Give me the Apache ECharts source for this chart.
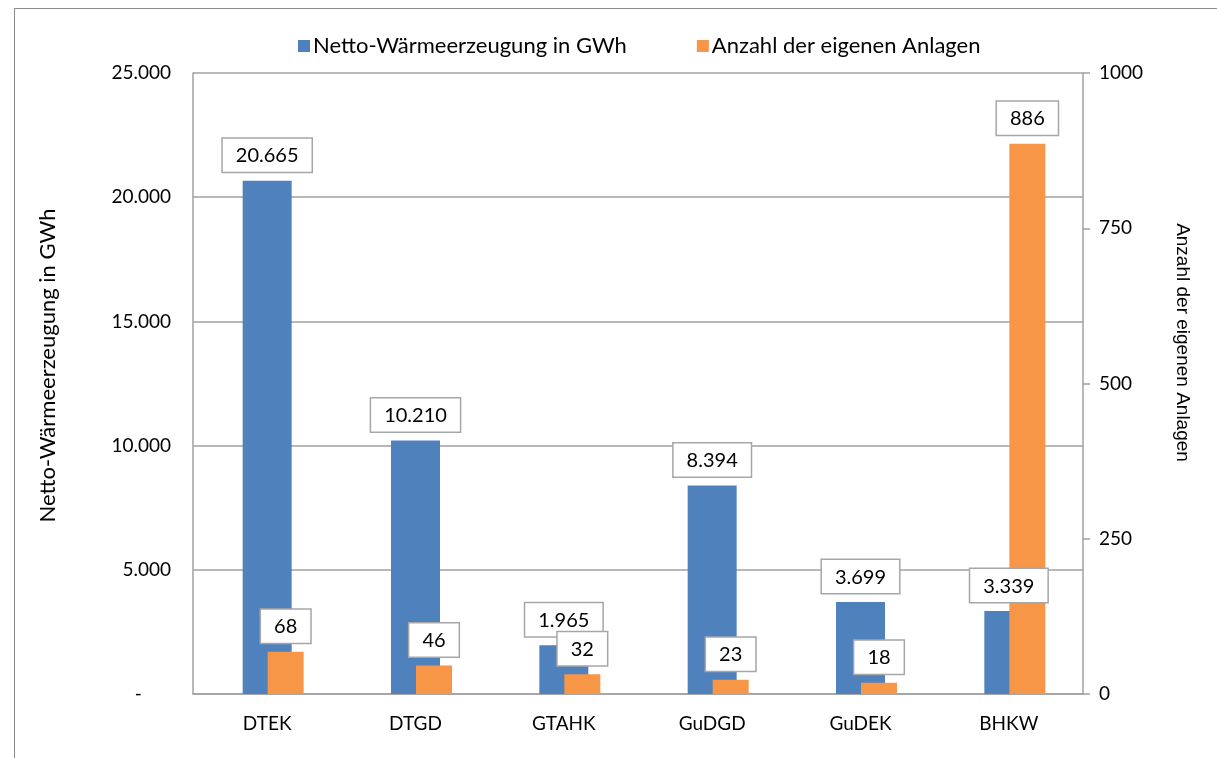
<!DOCTYPE html>
<html>
<head>
<meta charset="utf-8">
<script src="https://cdn.jsdelivr.net/npm/echarts@6/dist/echarts.min.js"></script>
<style>
html,body{margin:0;padding:0;background:#fff;}
#frame{position:absolute;left:14px;top:8px;width:1300px;height:800px;border-left:1.5px solid #8c8c8c;border-top:1.5px solid #8c8c8c;}
#chart{position:absolute;left:0;top:0;width:1217px;height:758px;}
</style>
</head>
<body>
<div id="frame"></div>
<div id="chart"></div>
<script>
const categories = ['DTEK', 'DTGD', 'GTAHK', 'GuDGD', 'GuDEK', 'BHKW'];
const waerme = [20665, 10210, 1965, 8394, 3699, 3339];
const anlagen = [68, 46, 32, 23, 18, 886];
const leftTicks = [0, 5000, 10000, 15000, 20000, 25000];
const rightTicks = [0, 250, 500, 750, 1000];

const FONT = 'Lato';
function de(v) {
  return String(Math.round(v)).replace(/\B(?=(\d{3})+(?!\d))/g, '.');
}
const labelBox = {
  show: true,
  position: 'top',
  distance: 9,
  color: '#000',
  fontFamily: FONT,
  fontSize: 20,
  backgroundColor: '#fff',
  borderColor: '#a6a6a6',
  borderWidth: 1.5,
  padding: [7, 13, 6, 13]
};
const hiddenCat = {type: 'category', data: categories, show: false};

const chart = echarts.init(document.getElementById('chart'), null, {renderer: 'canvas'});
chart.setOption({
  animation: false,
  textStyle: {fontFamily: FONT},
  legend: {
    data: ['Netto-Wärmeerzeugung in GWh', 'Anzahl der eigenen Anlagen'],
    top: 30,
    left: 293,
    itemWidth: 12,
    itemHeight: 12,
    itemGap: 70,
    icon: 'rect',
    textStyle: {fontFamily: FONT, fontSize: 22, color: '#000', padding: [0, 0, 0, -2]}
  },
  grid: {left: 193, right: 134, top: 73, bottom: 64, containLabel: false},
  xAxis: [
    {
      type: 'category',
      data: categories,
      axisLine: {show: true, lineStyle: {color: '#a0a0a0', width: 1.5}},
      axisTick: {show: false},
      axisLabel: {color: '#000', fontFamily: FONT, fontSize: 19, margin: 20}
    },
    hiddenCat,
    hiddenCat
  ],
  yAxis: [
    {
      type: 'value',
      min: 0, max: 25000, interval: 5000,
      name: 'Netto-Wärmeerzeugung in GWh',
      nameLocation: 'middle',
      nameGap: 134,
      nameRotate: 90,
      nameTextStyle: {color: '#000', fontFamily: FONT, fontSize: 22, padding: [0, 0, 0, 36]},
      axisLine: {show: true, lineStyle: {color: '#a0a0a0', width: 1.5}},
      axisTick: {show: false},
      splitLine: {show: true, lineStyle: {color: '#a0a0a0', width: 1.5}},
      axisLabel: {
        color: '#000', fontFamily: FONT, fontSize: 19, margin: 22,
        formatter: function (v) { return v === 0 ? '-      ' : de(v); }
      }
    },
    {
      type: 'value',
      min: 0, max: 1000, interval: 250,
      name: 'Anzahl der eigenen Anlagen',
      nameLocation: 'middle',
      nameGap: 90,
      nameRotate: -90,
      nameTextStyle: {color: '#000', fontFamily: 'Liberation Sans', fontSize: 19, padding: [0, 82, 0, 0]},
      axisLine: {show: true, lineStyle: {color: '#a0a0a0', width: 1.5}},
      axisTick: {show: true, length: 7, inside: false, lineStyle: {color: '#a0a0a0', width: 1.5}},
      splitLine: {show: false},
      axisLabel: {
        color: '#000', fontFamily: FONT, fontSize: 19, margin: 16, align: 'left',
        formatter: function (v) { return String(v); }
      }
    }
  ],
  series: [
    {
      name: 'Netto-Wärmeerzeugung in GWh',
      type: 'bar',
      xAxisIndex: 0,
      yAxisIndex: 0,
      barWidth: 49,
      barGap: '-100%',
      data: waerme,
      itemStyle: {color: '#4f81bd'},
      z: 2
    },
    {
      name: 'waerme-label',
      type: 'bar',
      xAxisIndex: 0,
      yAxisIndex: 0,
      barWidth: 49,
      barGap: '-100%',
      data: waerme,
      silent: true,
      itemStyle: {color: 'rgba(0,0,0,0)'},
      label: Object.assign({}, labelBox, {formatter: function (p) { return de(p.value); }}),
      z: 4
    },
    {
      name: 'spacer',
      type: 'bar',
      xAxisIndex: 1,
      yAxisIndex: 1,
      barWidth: 37,
      barGap: 0,
      data: [],
      silent: true
    },
    {
      name: 'Anzahl der eigenen Anlagen',
      type: 'bar',
      xAxisIndex: 1,
      yAxisIndex: 1,
      barWidth: 36,
      barGap: 0,
      data: anlagen,
      itemStyle: {color: '#f79646'},
      z: 3
    },
    {
      name: 'spacer2',
      type: 'bar',
      xAxisIndex: 2,
      yAxisIndex: 1,
      barWidth: 37,
      barGap: 0,
      data: [],
      silent: true
    },
    {
      name: 'anlagen-label',
      type: 'bar',
      xAxisIndex: 2,
      yAxisIndex: 1,
      barWidth: 36,
      barGap: 0,
      data: anlagen,
      silent: true,
      itemStyle: {color: 'rgba(0,0,0,0)'},
      label: Object.assign({}, labelBox, {formatter: function (p) { return String(p.value); }}),
      z: 5
    }
  ]
});
</script>
</body>
</html>
